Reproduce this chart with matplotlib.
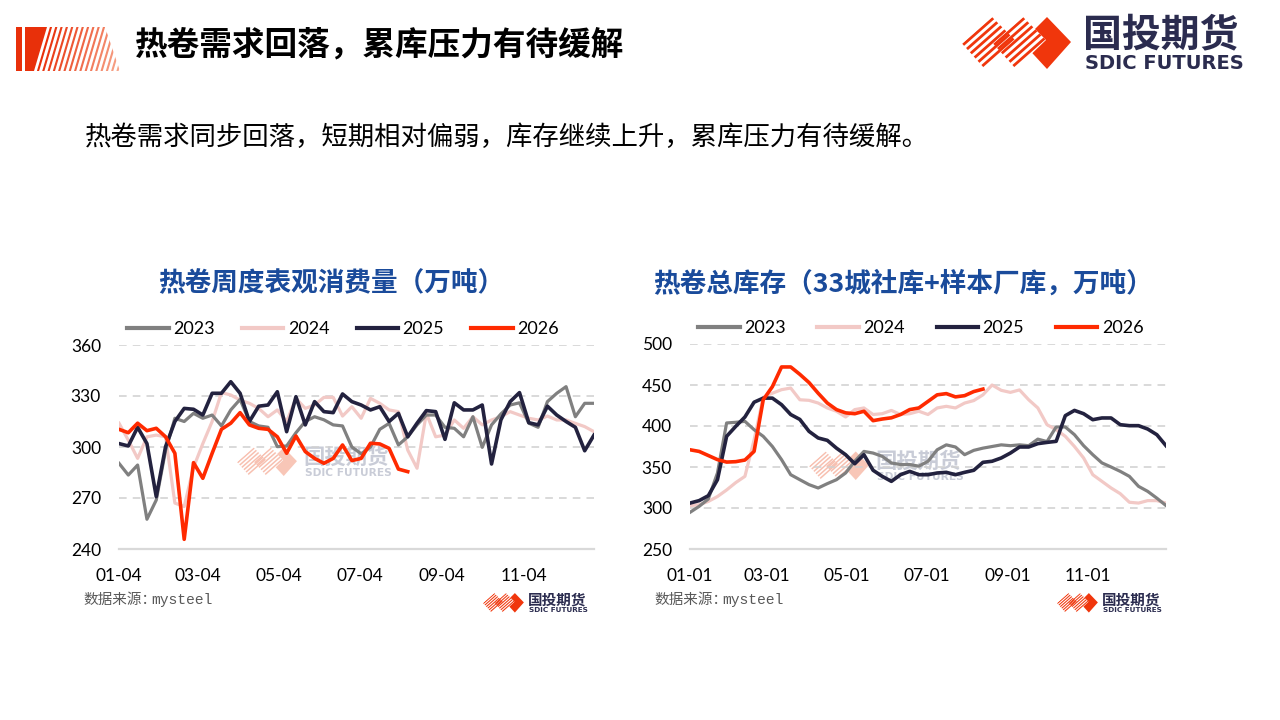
import numpy as np
import matplotlib
matplotlib.use("Agg")
import matplotlib.pyplot as plt
from matplotlib.colors import to_hex, to_rgb
from matplotlib.patches import Polygon, Rectangle

plt.rcParams["font.family"] = ["Noto Sans CJK SC", "DejaVu Sans"]

# ---- data ----
years = ["2023", "2024", "2025", "2026"]

# weekly apparent consumption of hot-rolled coil, 10k t (week 0 = 01-04)
cons_2023 = [290.4, 283.5, 289.4, 257.5, 268.8, 298, 316.9, 315, 319.8, 316.9, 318.8, 312.4, 321.8,
             328, 315, 312.4, 311.6, 300.2, 300.6, 308.4, 315, 317.8, 316, 313, 312.4, 300, 296,
             300, 310.4, 313.9, 301.2, 306, 313, 318.8, 318.8, 311.6, 311, 306, 317.8, 299.8, 313,
             319.4, 324.7, 326, 314, 311.6, 326.7, 331.6, 335.5, 317.8, 325.7, 325.7]
cons_2024 = [314, 304, 293.3, 306, 307, 306, 267, 265, 288, 302, 315, 332, 330.6, 327.6, 325.7,
             322.7, 317.8, 321.8, 315, 328.6, 322.7, 324.7, 329.2, 329.2, 318.2, 323.7, 316.9,
             328.6, 325.7, 321.8, 320.8, 298.2, 287.5, 319.8, 306, 307, 315.9, 311, 317.8, 313,
             315.9, 317.8, 320.8, 318.8, 316.9, 315.9, 318.2, 315.9, 315.9, 313.9, 312, 309]
cons_2025 = [302, 300.6, 311.6, 302, 270.8, 300.2, 315, 322.7, 322.2, 318.8, 331.6, 331.6, 338.4,
             331.6, 315, 324, 324.7, 332.5, 309, 329.6, 313, 326.7, 320.8, 320.2, 331.2, 326.7,
             324.7, 321.8, 323.7, 315, 319.8, 306, 314, 321.4, 320.8, 304.5, 326, 321.8, 321.8,
             324.7, 290, 315.9, 326.7, 332, 314.3, 313, 324, 318.8, 315, 311.6, 297.8, 307]
cons_2026 = [310.4, 308.4, 314, 309.6, 311, 306, 296.3, 245.7, 290.8, 281.6, 296.3, 310.4, 314,
             320.2, 313, 311, 310.4, 306, 296.3, 306.5, 297.3, 293.3, 290.4, 293.3, 301.2, 292,
             293.3, 302.2, 301.8, 299.2, 287, 285.5]
cons_tick_days = [0, 59, 120, 181, 243, 304]
cons_tick_labels = ["01-04", "03-04", "05-04", "07-04", "09-04", "11-04"]
cons_yticks = [240, 270, 300, 330, 360]

# total HRC inventory (33 cities social + mill sample), 10k t (week 0 = 01-01)
inv_2023 = [294.7, 302, 311, 342.7, 403.7, 404.5, 405.7, 395.5, 387.4, 375, 359, 340.6, 334.5,
            328.5, 324.4, 329.7, 334.5, 342.7, 357, 369, 367, 363, 354.9, 353, 353, 351, 357,
            371, 377, 374.4, 365, 370.3, 373, 375, 377, 376, 377, 376, 384, 381, 398.8, 398.8,
            389.4, 376, 365, 355, 350, 344.7, 338.6, 326.4, 320.3, 312, 303]
inv_2024 = [302.8, 304, 308, 314, 322, 331, 338.6, 383, 435, 440, 444.3, 446.3, 432, 431.3, 428,
            422, 418, 411, 420, 422, 414, 415, 419, 414, 415, 418, 414, 422, 424, 422, 428, 431,
            438, 450, 443.5, 441, 444, 432, 422, 401.6, 395.5, 387.4, 375, 361, 340.6, 332.5,
            324.4, 317.5, 307, 306, 309, 309, 306]
inv_2025 = [306, 309, 315, 334.5, 387.4, 399.6, 411, 429, 434, 434, 426, 414, 408, 393.5, 385.4,
            382.5, 373, 365, 354, 365, 346, 338.6, 332.5, 340.6, 344.7, 340.6, 340.6, 342.7,
            343.5, 340.6, 343.5, 346, 355.7, 357, 361, 367, 374.4, 374.4, 378.5, 380, 381.3,
            412.6, 419, 415, 407.7, 409.8, 409.8, 401.6, 400.4, 400.4, 396.3, 389.4, 376]
inv_2026 = [371, 369, 364, 359, 356, 356.5, 358.5, 369, 432, 448, 472, 472, 463, 453, 440, 428,
            420, 416, 415, 418, 406.5, 408.5, 410, 414, 420, 422, 430, 438, 439.5, 435.5, 437,
            442, 445]
inv_tick_days = [0, 59, 120, 181, 243, 304]
inv_tick_labels = ["01-01", "03-01", "05-01", "07-01", "09-01", "11-01"]
inv_yticks = [250, 300, 350, 400, 450, 500]

colors = ["#808080", "#f2c9c6", "#23223f", "#ff2a00"]
widths = [2.3, 2.3, 2.6, 2.6]
zorders = [3, 2, 4, 5]

RED = "#f0360c"
NAVY_TXT = "#2b2c4f"
BLUE = "#1a4b9b"

fig = plt.figure(figsize=(12.8, 7.2), dpi=100)
bg = fig.add_axes([0, 0, 1, 1])
bg.set_xlim(0, 1280)
bg.set_ylim(720, 0)
bg.axis("off")
bg.set_zorder(0)


def striped(ax, verts, p0, direction, offsets, color, lw, alpha=1.0, z=1):
    clip = Polygon(verts, closed=True, facecolor="none", edgecolor="none", transform=ax.transData)
    ax.add_patch(clip)
    d = np.array(direction, float)
    d = d / np.hypot(*d) * 200
    for i, off in enumerate(offsets):
        c = color[i] if isinstance(color, list) else color
        a = np.array(p0, float) + np.array(off, float)
        ln, = ax.plot([a[0] - d[0], a[0] + d[0]], [a[1] - d[1], a[1] + d[1]],
                      color=c, lw=lw, alpha=alpha, zorder=z, solid_capstyle="butt")
        ln.set_clip_path(clip)


def draw_logo(ax, x0, yc, s, stripe_c, diamond_c, text_c, alpha=1.0, z=1):
    def P(u, v):
        return (x0 + u * s, yc + v * s)
    # solid diamond
    ax.add_patch(Polygon([P(60, -1.5), P(85, -26.5), P(109, -1.5), P(85, 25.5)], closed=True,
                         facecolor=diamond_c, edgecolor="none", alpha=alpha, zorder=z))
    for du in (0, 31):
        verts = [P(du, 0), P(du + 30, -26.5), P(du + 53, -3.5), P(du + 23, 25.5)]
        if du:
            ax.add_patch(Polygon(verts, closed=True, facecolor="white", edgecolor="none", zorder=z + 0.1))
        L = np.array(P(du, 0))
        B = np.array(P(du + 23, 25.5))
        offs = [(k + 0.3) / 6 * (B - L) for k in range(6)]
        striped(ax, verts, L, (30, -26.5), offs, stripe_c, 2.0 * s, alpha, z + 0.2)
    ax.text(*P(121, -8.5), "国投期货", fontsize=28 * s, fontweight="bold", color=text_c,
            ha="left", va="center", alpha=alpha, zorder=z + 0.3)
    ax.text(*P(123, 20), "SDIC FUTURES", fontsize=14 * s, fontweight="bold", color=text_c,
            family="DejaVu Sans", ha="left", va="center", alpha=alpha, zorder=z + 0.3)


# ---- header ----
bg.add_patch(Rectangle((16, 27), 6, 44, facecolor="#e8300a", edgecolor="none"))
bg.add_patch(Polygon([(25, 27), (47, 27), (34, 71), (25, 71)], closed=True,
                     facecolor="#e8300a", edgecolor="none"))
n_str = 16
c_a, c_b = np.array(to_rgb("#e8300a")), np.array(to_rgb("#f7a58a"))
stripe_cols = [to_hex((1 - t) * c_a + t * c_b) for t in np.linspace(0, 1, n_str)]
striped(bg, [(34, 71), (47, 27), (105, 27), (120, 71)], (38, 71), (13, -44),
        [(5.3 * k, 0) for k in range(n_str)], stripe_cols, 1.5)
bg.text(135, 45, "热卷需求回落，累库压力有待缓解", fontsize=23.5, fontweight="bold",
        color="black", ha="left", va="center")
draw_logo(bg, 962, 43.5, 1.0, RED, RED, NAVY_TXT)

bg.text(85, 137, "热卷需求同步回落，短期相对偏弱，库存继续上升，累库压力有待缓解。",
        fontsize=19, color="black", ha="left", va="center")


def draw_chart(px, series, yticks, tick_days, tick_labels, xmax, title, title_x,
               logo_x, wm_x, wm_y, colspace):
    x0, x1, y0, y1 = px
    ax = fig.add_axes([x0 / 1280, (720 - y1) / 720, (x1 - x0) / 1280, (y1 - y0) / 720],
                      facecolor="none")
    ax.set_zorder(2)
    for vals, name, c, lw, z in zip(series, years, colors, widths, zorders):
        ax.plot(np.arange(len(vals)), vals, color=c, lw=lw, zorder=z, label=name)
    ax.set_xlim(0, xmax)
    ax.set_ylim(yticks[0], yticks[-1])
    for y in yticks[1:]:
        ax.axhline(y, color="#d0d0d0", lw=1.1, ls=(0, (5, 4)), zorder=0)
    ax.axhline(yticks[0], color="#d9d9d9", lw=1.6, zorder=1, clip_on=False)
    for sp in ax.spines.values():
        sp.set_visible(False)
    ax.set_yticks(yticks)
    ax.set_xticks(np.array(tick_days) / 7, tick_labels)
    ax.tick_params(length=0, labelsize=12.5, colors="black")
    ax.tick_params(axis="y", pad=13)
    ax.tick_params(axis="x", pad=14)
    for lab in ax.get_xticklabels() + ax.get_yticklabels():
        lab.set_family("Lato")
    leg = ax.legend(ncol=4, loc="center left", bbox_to_anchor=(0.017, 1.078), frameon=False,
                    handlelength=2.3, handletextpad=0.25, columnspacing=colspace, borderpad=0,
                    borderaxespad=0, prop={"family": "Lato", "size": 13})
    for h in leg.get_lines():
        h.set_linewidth(3.0)
    bg.text(title_x, 284, title, fontsize=19.2, fontweight="bold", color=BLUE,
            ha="center", va="center")
    bg.text(x0 - 36, 600, "数据来源：", fontsize=10.5, color="#595959", ha="left", va="center")
    bg.text(x0 + 32, 600, "mysteel", fontsize=10.5, color="#595959", family="Liberation Mono",
            ha="left", va="center")
    draw_logo(bg, logo_x, 603, 0.375, RED, RED, NAVY_TXT)
    draw_logo(bg, wm_x, wm_y, 0.55, "#f7b9a8", "#f8c0b0", "#c3c7d3", alpha=0.9)
    return ax


draw_chart((119, 594, 345, 549), [cons_2023, cons_2024, cons_2025, cons_2026], cons_yticks,
           cons_tick_days, cons_tick_labels, 51, "热卷周度表观消费量（万吨）", 331,
           483, 237, 462, 1.5)
draw_chart((690, 1166, 344, 549), [inv_2023, inv_2024, inv_2025, inv_2026], inv_yticks,
           inv_tick_days, inv_tick_labels, 52, "热卷总库存（33城社库+样本厂库，万吨）", 903,
           1057, 809, 466, 1.75)

fig.savefig("out.png", dpi=100)
